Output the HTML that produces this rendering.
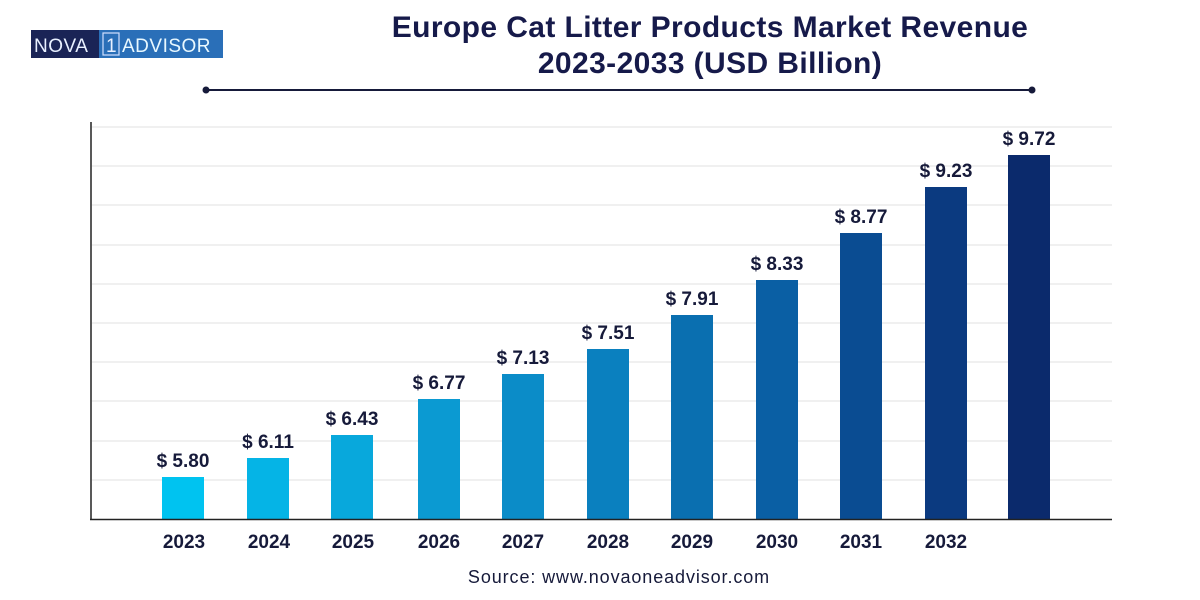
<!DOCTYPE html>
<html><head><meta charset="utf-8"><style>
body{margin:0;background:#fff;}
svg{display:block;font-family:"Liberation Sans",Arial,sans-serif;}
</style></head><body>
<svg width="1200" height="600" viewBox="0 0 1200 600" xmlns="http://www.w3.org/2000/svg">
<rect width="1200" height="600" fill="#fff"/>
<rect x="31" y="30" width="68" height="28" fill="#1a2456"/>
<rect x="99" y="30" width="124" height="28" fill="#2a6fb8"/>
<text x="34" y="52" font-size="19" fill="#e8f0ff" letter-spacing="0.5">NOVA</text>
<rect x="103" y="33" width="16" height="22" fill="none" stroke="#d0e0ff" stroke-width="1.2"/>
<text x="106" y="52" font-size="19" fill="#e8f0ff">1</text>
<text x="122" y="52" font-size="19" fill="#e8f8ff" letter-spacing="0.5">ADVISOR</text>
<text x="710" y="37" font-size="30" font-weight="bold" fill="#161a4a" text-anchor="middle" letter-spacing="0.4">Europe Cat Litter Products Market Revenue</text>
<text x="710" y="73" font-size="30" font-weight="bold" fill="#161a4a" text-anchor="middle" letter-spacing="0.4">2023-2033 (USD Billion)</text>
<line x1="206" y1="90" x2="1032" y2="90" stroke="#161a3a" stroke-width="2"/>
<circle cx="206" cy="90" r="3.5" fill="#161a3a"/><circle cx="1032" cy="90" r="3.5" fill="#161a3a"/>
<g stroke="#f0f0f0" stroke-width="2">
<line x1="92" y1="127" x2="1112" y2="127"/><line x1="92" y1="166" x2="1112" y2="166"/>
<line x1="92" y1="205" x2="1112" y2="205"/><line x1="92" y1="245" x2="1112" y2="245"/>
<line x1="92" y1="284" x2="1112" y2="284"/><line x1="92" y1="323" x2="1112" y2="323"/>
<line x1="92" y1="362" x2="1112" y2="362"/><line x1="92" y1="401" x2="1112" y2="401"/>
<line x1="92" y1="441" x2="1112" y2="441"/><line x1="92" y1="480" x2="1112" y2="480"/>
</g>
<g>
<rect x="162" y="477" width="42" height="42" fill="#00c3f0"/>
<rect x="247" y="458" width="42" height="61" fill="#05b4e6"/>
<rect x="331" y="435" width="42" height="84" fill="#08a8dc"/>
<rect x="418" y="399" width="42" height="120" fill="#0b9ad2"/>
<rect x="502" y="374" width="42" height="145" fill="#0b8cc8"/>
<rect x="587" y="349" width="42" height="170" fill="#0a80bf"/>
<rect x="671" y="315" width="42" height="204" fill="#0a6fb0"/>
<rect x="756" y="280" width="42" height="239" fill="#0a5fa4"/>
<rect x="840" y="233" width="42" height="286" fill="#0a4c92"/>
<rect x="925" y="187" width="42" height="332" fill="#0b3a80"/>
<rect x="1008" y="155" width="42" height="364" fill="#0b2a6c"/>
</g>
<g font-size="19" font-weight="bold" fill="#161a3a" text-anchor="middle">
<text x="183" y="467">$ 5.80</text><text x="268" y="448">$ 6.11</text>
<text x="352" y="425">$ 6.43</text><text x="439" y="389">$ 6.77</text>
<text x="523" y="364">$ 7.13</text><text x="608" y="339">$ 7.51</text>
<text x="692" y="305">$ 7.91</text><text x="777" y="270">$ 8.33</text>
<text x="861" y="223">$ 8.77</text><text x="946" y="177">$ 9.23</text>
<text x="1029" y="145">$ 9.72</text>
</g>
<line x1="91" y1="122" x2="91" y2="520" stroke="#222" stroke-width="1.5"/>
<line x1="90" y1="519.5" x2="1112" y2="519.5" stroke="#222" stroke-width="1.5"/>
<g font-size="19" font-weight="bold" fill="#161a3a" text-anchor="middle">
<text x="184" y="548">2023</text><text x="269" y="548">2024</text><text x="353" y="548">2025</text>
<text x="439" y="548">2026</text><text x="523" y="548">2027</text><text x="608" y="548">2028</text>
<text x="692" y="548">2029</text><text x="777" y="548">2030</text><text x="861" y="548">2031</text>
<text x="946" y="548">2032</text>
</g>
<text x="619" y="583" font-size="18" fill="#161a3a" text-anchor="middle" letter-spacing="0.9">Source: www.novaoneadvisor.com</text>
</svg>
</body></html>
